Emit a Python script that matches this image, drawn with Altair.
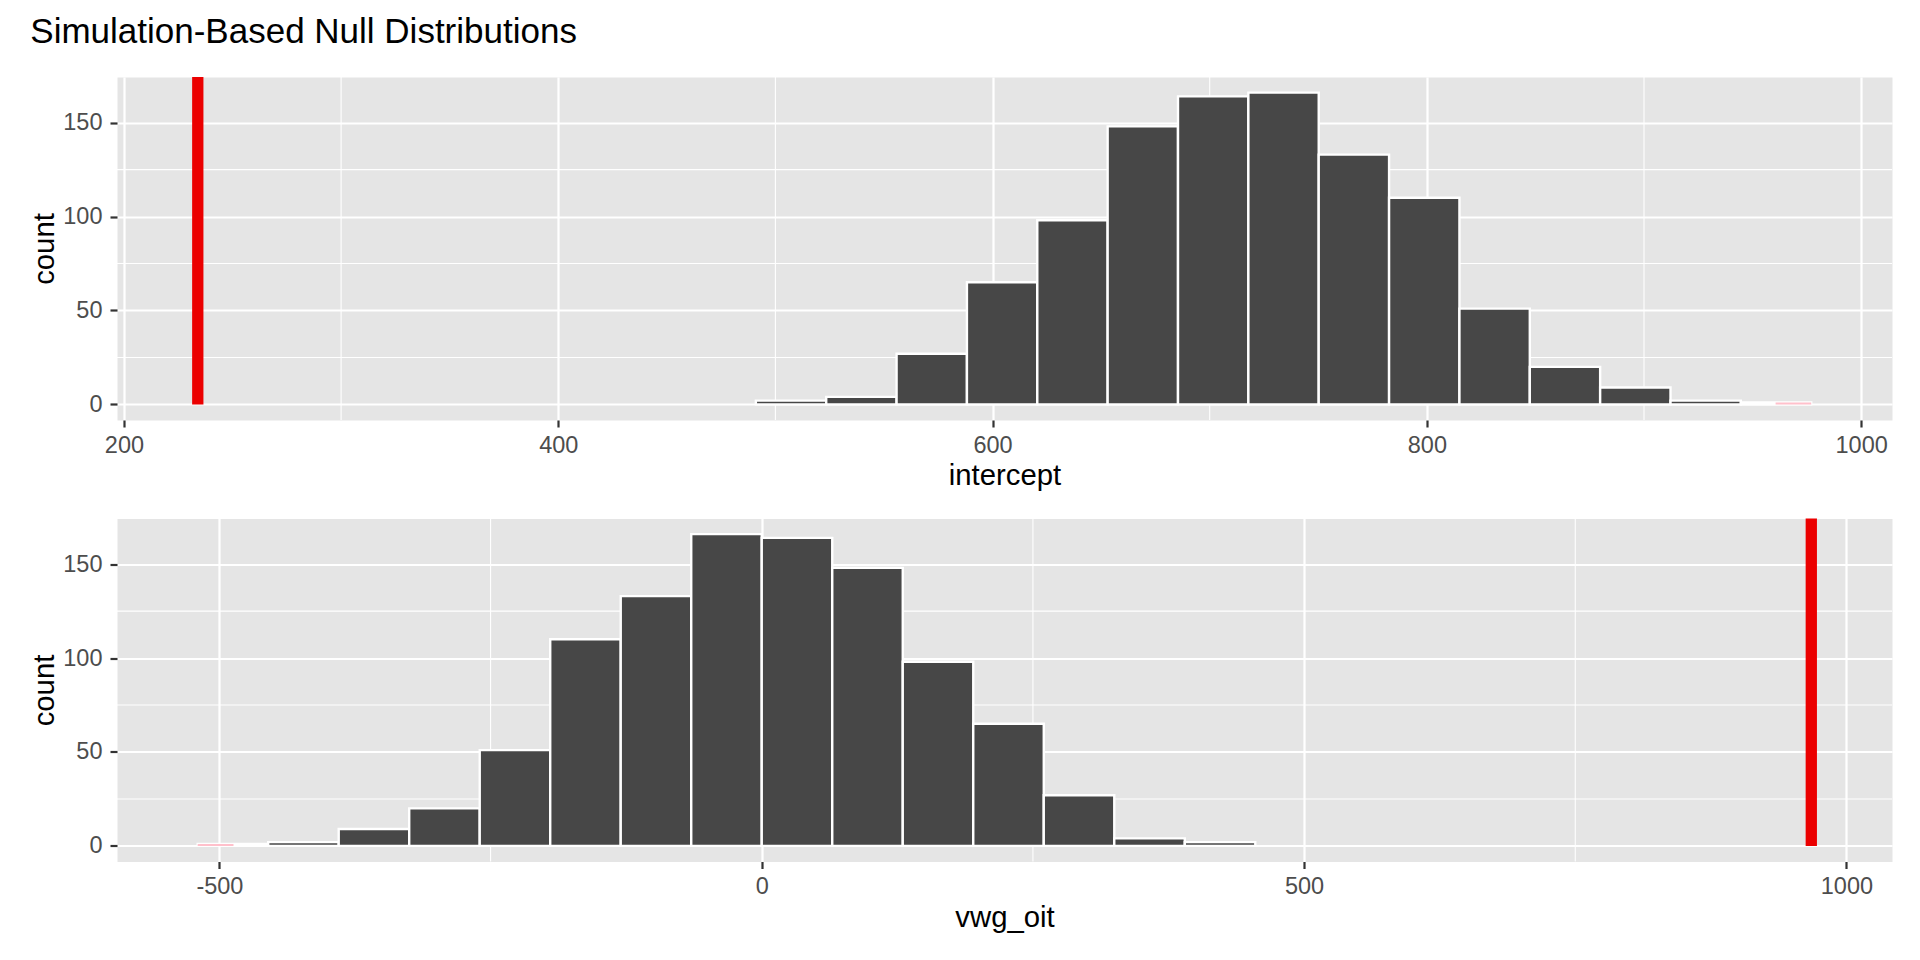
import altair as alt
import pandas as pd

TITLE = "Simulation-Based Null Distributions"
FONT = "Liberation Sans"

# ---- top panel: intercept ----
intercept_edges = [491.0, 523.4, 555.8, 588.2, 620.6, 653.0, 685.4, 717.8,
                   750.2, 782.6, 815.0, 847.4, 879.8, 912.2, 944.6, 977.0]
intercept_counts = [2, 4, 27, 65, 98, 148, 164, 166, 133, 110, 51, 20, 9, 2, 1]
intercept_obs = 234.0
intercept_shade = [960.6, 977.0]
intercept_ticks = [200, 400, 600, 800, 1000]
intercept_minor = [300, 500, 700, 900]
intercept_domain = [196.8, 1014.2]

# ---- bottom panel: vwg_oit ----
vwg_edges = [-520.0, -455.0, -390.0, -325.0, -260.0, -195.0, -130.0, -65.0,
             0.0, 65.0, 130.0, 195.0, 260.0, 325.0, 390.0, 455.0]
vwg_counts = [1, 2, 9, 20, 51, 110, 133, 166, 164, 148, 98, 65, 27, 4, 2]
vwg_obs = 967.6
vwg_shade = [-520.0, -487.0]
vwg_ticks = [-500, 0, 500, 1000]
vwg_minor = [-250, 250, 750]
vwg_domain = [-594.4, 1042.0]

# ---- shared y ----
count_ticks = [0, 50, 100, 150]
count_minor = [25, 75, 125]
count_domain = [-8.3, 174.3]
shade_count = 1

BAR_FILL = "#474747"
PINK = "#FFC0CB"
RED = "#EB0000"

W, H = 1775, 343


def panel(name, edges, counts, obs, shade, ticks, minor, domain):
    xs = alt.Scale(domain=domain, nice=False, zero=False)
    ys = alt.Scale(domain=count_domain, nice=False, zero=False)
    xaxis = alt.Axis(values=ticks, title=name, labelExpr="'' + datum.value")
    yaxis = alt.Axis(values=count_ticks, title="count")

    bars_df = pd.DataFrame({"x0": edges[:-1], "x1": edges[1:],
                            "lo": [0] * len(counts), "count": counts})
    minor_x_df = pd.DataFrame({"v": minor})
    minor_y_df = pd.DataFrame({"c": count_minor})
    shade_df = pd.DataFrame({"a": [shade[0]], "b": [shade[1]],
                             "lo": [0], "hi": [shade_count]})
    obs_df = pd.DataFrame({"x": [obs], "lo": [0], "hi": [count_domain[1]]})

    mx = alt.Chart(minor_x_df).mark_rule(color="white", strokeWidth=1.1).encode(
        x=alt.X("v:Q", scale=xs, axis=xaxis))
    my = alt.Chart(minor_y_df).mark_rule(color="white", strokeWidth=1.1).encode(
        y=alt.Y("c:Q", scale=ys, axis=yaxis))
    bars = alt.Chart(bars_df).mark_rect(
        fill=BAR_FILL, stroke="white", strokeWidth=2.4).encode(
        x=alt.X("x0:Q", scale=xs, axis=xaxis), x2="x1:Q",
        y=alt.Y("lo:Q", scale=ys, axis=yaxis), y2="count:Q")
    pink = alt.Chart(shade_df).mark_rect(fill=PINK).encode(
        x=alt.X("a:Q", scale=xs, axis=xaxis), x2="b:Q",
        y=alt.Y("lo:Q", scale=ys, axis=yaxis), y2="hi:Q")
    line = alt.Chart(obs_df).mark_rule(color=RED, strokeWidth=11.3).encode(
        x=alt.X("x:Q", scale=xs, axis=xaxis),
        y=alt.Y("lo:Q", scale=ys, axis=yaxis), y2="hi:Q")
    return alt.layer(mx, my, bars, pink, line).properties(width=W, height=H)


top = panel("intercept", intercept_edges, intercept_counts, intercept_obs,
            intercept_shade, intercept_ticks, intercept_minor, intercept_domain)
bottom = panel("vwg_oit", vwg_edges, vwg_counts, vwg_obs,
               vwg_shade, vwg_ticks, vwg_minor, vwg_domain)

chart = alt.vconcat(top, bottom, spacing=19.5).properties(
    title=alt.TitleParams(TITLE, anchor="start", frame="bounds", fontSize=35,
                          font=FONT, fontWeight="normal", color="black",
                          baseline="alphabetic", offset=-7),
    padding={"left": 22, "top": 6, "right": 10, "bottom": 10},
    background="white",
).configure_view(
    fill="#E5E5E5", stroke="transparent"
).configure_axis(
    domain=False,
    grid=True, gridColor="white", gridWidth=2.2,
    tickColor="#333333", tickWidth=2.2, tickSize=7,
    labelColor="#4D4D4D", labelFont=FONT, labelFontSize=23.5,
    titleColor="black", titleFont=FONT, titleFontSize=29.3, titleFontWeight="normal",
).configure_axisX(
    labelPadding=6, titlePadding=5,
).configure_axisY(
    labelPadding=8, titlePadding=3,
)

chart.save("out.html", embed_options={"renderer": "svg", "actions": False})
